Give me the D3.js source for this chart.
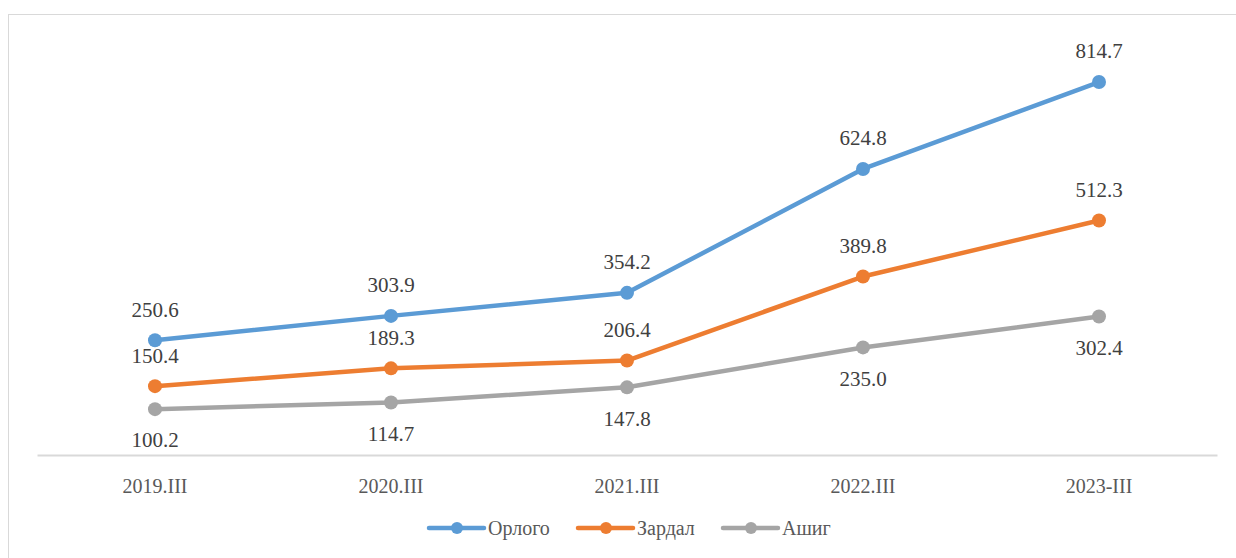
<!DOCTYPE html>
<html>
<head>
<meta charset="utf-8">
<script src="https://cdn.jsdelivr.net/npm/d3@7"></script>
<style>
  html, body { margin: 0; padding: 0; background: #fff; }
  svg { display: block; }
  svg text { font-family: "Liberation Serif", "Times New Roman", Times, "DejaVu Serif", serif; }
</style>
</head>
<body>
<div id="chart"></div>
<script>
  'use strict';

  // Categories (x axis)
  const categories = ['2019.III', '2020.III', '2021.III', '2022.III', '2023-III'];

  // Series values
  const orlogo = [250.6, 303.9, 354.2, 624.8, 814.7];
  const zardal = [150.4, 189.3, 206.4, 389.8, 512.3];
  const ashig = [100.2, 114.7, 147.8, 235.0, 302.4];

  const seriesNames = ['Орлого', 'Зардал', 'Ашиг'];
  const seriesColors = ['#5B9BD5', '#ED7D31', '#A5A5A5'];
  // label above (-1) or below (+1) the point
  const labelSide = [-1, -1, 1];

  const series = [orlogo, zardal, ashig].map(function (values, k) {
    return { name: seriesNames[k], color: seriesColors[k], side: labelSide[k], values: values };
  });

  const W = 1236, H = 558;
  const plot = { left: 37, right: 1217, top: 43, bottom: 455 };

  const svg = d3.select('#chart').append('svg')
    .attr('width', W)
    .attr('height', H);

  // Chart frame
  svg.append('rect')
    .attr('x', 8.5).attr('y', 14.5)
    .attr('width', W + 10).attr('height', H + 10)
    .attr('fill', 'none')
    .attr('stroke', '#d9d9d9')
    .attr('stroke-width', 1);

  const x = d3.scaleBand()
    .domain(categories)
    .range([plot.left, plot.right]);

  const y = d3.scaleLinear()
    .domain([0, 900])
    .range([plot.bottom, plot.top]);

  const cx = function (i) { return x(categories[i]) + x.bandwidth() / 2; };

  // X axis
  const xAxis = svg.append('g')
    .attr('transform', 'translate(0,' + plot.bottom + ')')
    .call(d3.axisBottom(x).tickSize(0).tickPadding(24));
  xAxis.attr('font-family', null);
  xAxis.select('.domain')
    .attr('stroke', '#d9d9d9')
    .attr('stroke-width', 2);
  xAxis.selectAll('text')
    .attr('fill', '#595959')
    .attr('font-size', '20px');

  const line = d3.line()
    .x(function (d, i) { return cx(i); })
    .y(function (d) { return y(d); });

  // Lines (bottom series drawn first)
  const g = svg.append('g');
  series.slice().reverse().forEach(function (s) {
    g.append('path')
      .datum(s.values)
      .attr('fill', 'none')
      .attr('stroke', s.color)
      .attr('stroke-width', 4.5)
      .attr('stroke-linejoin', 'round')
      .attr('stroke-linecap', 'round')
      .attr('d', line);

    g.selectAll(null)
      .data(s.values)
      .enter().append('circle')
      .attr('cx', function (d, i) { return cx(i); })
      .attr('cy', function (d) { return y(d); })
      .attr('r', 7)
      .attr('fill', s.color);
  });

  // Data labels
  series.forEach(function (s) {
    svg.append('g').selectAll('text')
      .data(s.values)
      .enter().append('text')
      .attr('x', function (d, i) { return cx(i); })
      .attr('y', function (d) { return y(d) + s.side * 31; })
      .attr('dy', '0.35em')
      .attr('text-anchor', 'middle')
      .attr('fill', '#404040')
      .attr('font-size', '21px')
      .text(function (d) { return d.toFixed(1); });
  });

  // Legend
  const legendItems = [
    { x: 429, textX: 488 },
    { x: 578, textX: 637 },
    { x: 723, textX: 782 }
  ];
  const legendY = 528;
  const legend = svg.append('g');
  series.forEach(function (s, k) {
    const it = legendItems[k];
    legend.append('line')
      .attr('x1', it.x).attr('x2', it.x + 55)
      .attr('y1', legendY).attr('y2', legendY)
      .attr('stroke', s.color)
      .attr('stroke-width', 4.5)
      .attr('stroke-linecap', 'round');
    legend.append('circle')
      .attr('cx', it.x + 28).attr('cy', legendY)
      .attr('r', 6)
      .attr('fill', s.color);
    legend.append('text')
      .attr('x', it.textX).attr('y', legendY)
      .attr('dy', '0.35em')
      .attr('fill', '#595959')
      .attr('font-size', '20px')
      .text(s.name);
  });
</script>
</body>
</html>
